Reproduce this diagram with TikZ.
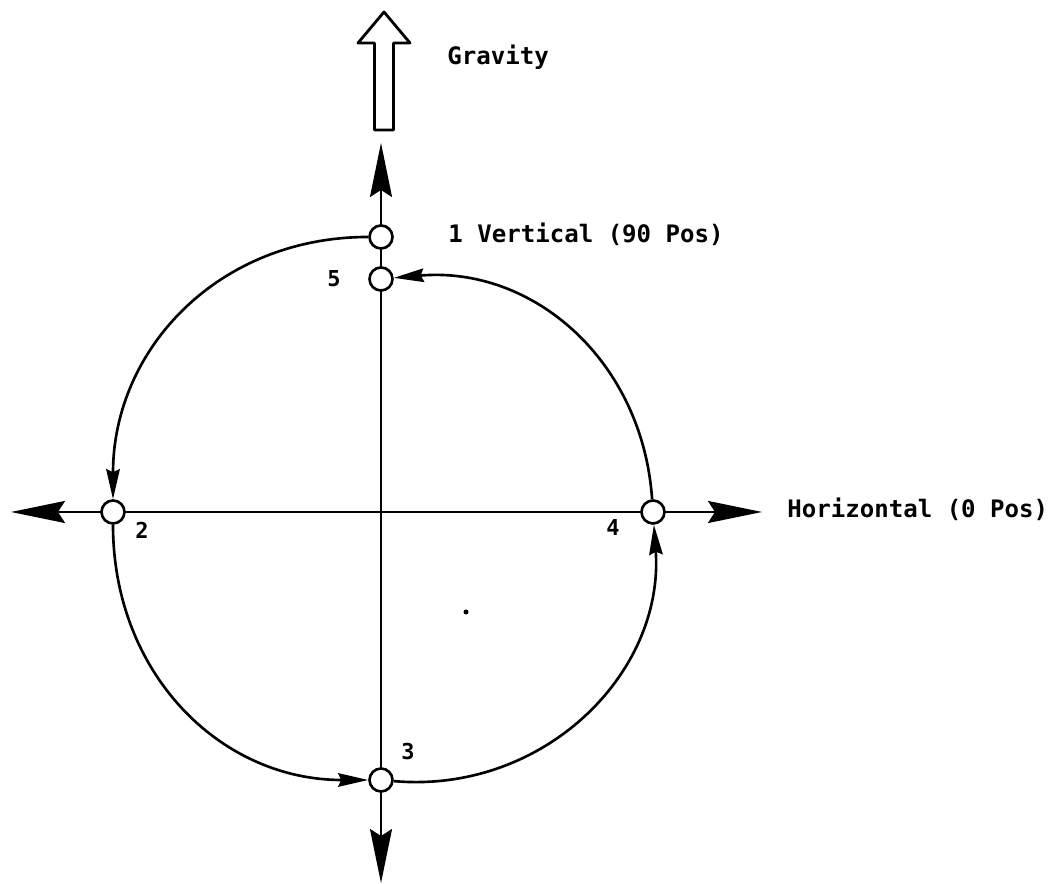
\documentclass[tikz,border=0pt]{standalone}
\usepackage{fontspec}
\setmonofont{DejaVu Sans Mono}
\usetikzlibrary{arrows.meta}

\begin{document}
\begin{tikzpicture}[x=0.02cm, y=0.02cm,
    station/.style={circle, draw, fill=white, line width=1.5pt, minimum size=0.46cm, inner sep=0pt},
    lbl/.style={font=\fontsize{13.7}{16}\selectfont\ttfamily\bfseries, anchor=base west, inner sep=0pt},
    num/.style={font=\fontsize{12.5}{14}\selectfont\ttfamily\bfseries, inner sep=0pt},
    axis/.style={line width=1.2pt, {Stealth[length=1.08cm, width=0.44cm, inset=0.14cm]}-{Stealth[length=1.08cm, width=0.44cm, inset=0.14cm]}},
    turn/.style={line width=1.5pt, -{Stealth[length=0.6cm, width=0.27cm, inset=0.06cm]}}]
      \useasboundingbox (0,0) rectangle (1057,884);

      % Axes
      \coordinate (vtop) at (381,741);
      \coordinate (vbot) at (381,1);
      \coordinate (hleft) at (11,372);
      \coordinate (hright) at (762,372);
      \draw[axis] (vbot) -- (vtop);
      \draw[axis] (hleft) -- (hright);

      % Gravity arrow
      \draw[line width=1.6pt, line join=round] (374.5,754) -- (374.5,841) -- (358,841) -- (384,872)
        -- (410,841) -- (393.5,841) -- (393.5,754) -- cycle;

      % Nodes
      \node (p1) at (381,647) [station] {};
      \node (p5) at (381,605) [station] {};
      \node (p2) at (113,372) [station] {};
      \node (p4) at (653,372) [station] {};
      \node (p3) at (381,104) [station] {};
      \node (grav) at (447,819) [lbl] {Gravity};
      \node (vert) at (448,641) [lbl] {1 Vertical (90 Pos)};
      \node (horiz) at (787,366) [lbl] {Horizontal (0 Pos)};
      \node (l5) at (334,605) [num] {5};
      \node (l2) at (142,354) [num] {2};
      \node (l4) at (613,356) [num] {4};
      \node (l3) at (408,132) [num] {3};

      % Edges
      \draw[turn] (p1) to [out=180,in=90,looseness=1.05] (p2);
      \draw[turn] (p2) to [out=270,in=180,looseness=1.05] (p3);
      \draw[turn] (p3) to [out=-5,in=-86,looseness=1.05] (p4);
      \draw[turn] (p4) to [out=94,in=5,looseness=1.05] (p5);

      \fill (466,272) circle [radius=2.5];
    \end{tikzpicture}
\end{document}
